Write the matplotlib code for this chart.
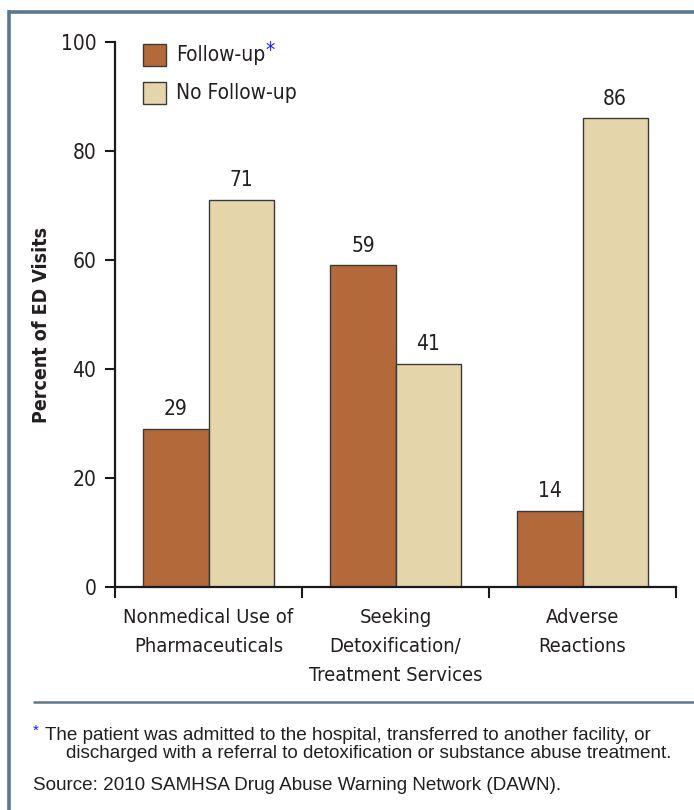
import matplotlib
matplotlib.use("Agg")
import matplotlib.pyplot as plt
from matplotlib.patches import Rectangle
from matplotlib.lines import Line2D
from matplotlib import font_manager
from matplotlib.font_manager import FontProperties
import numpy as np

categories = ["Nonmedical Use of\nPharmaceuticals",
              "Seeking\nDetoxification/\nTreatment Services",
              "Adverse\nReactions"]
follow_up = [29, 59, 14]
no_follow_up = [71, 41, 86]
series_names = ["Follow-up", "No Follow-up"]
y_ticks = [0, 20, 40, 60, 80, 100]
footnote_1 = "The patient was admitted to the hospital, transferred to another facility, or"
footnote_2 = "discharged with a referral to detoxification or substance abuse treatment."
source = "Source: 2010 SAMHSA Drug Abuse Warning Network (DAWN)."

# pick a condensed sans face for the chart labels
available = {f.name for f in font_manager.fontManager.ttflist}
if "Liberation Sans Narrow" in available:
    cond = dict(family="Liberation Sans Narrow")
else:
    probe = FontProperties(family="DejaVu Sans", stretch="condensed")
    path = font_manager.findfont(probe, fallback_to_default=False)
    if "ondensed" in path:
        cond = dict(family="DejaVu Sans", stretch="condensed")
    else:
        cond = dict(family="Liberation Sans")
regular = "Liberation Sans"

c_follow = "#B3693A"
c_nofollow = "#E5D5AA"
c_edge = "#3a3a3a"
c_frame = "#5B7893"
c_text = "#231F20"

fig = plt.figure(figsize=(6.94, 8.10), dpi=100)
W, H = 694, 810

def fx(px):
    return px / W

def fy(py):
    return 1 - py / H

# page frame: top and left rules
fig.add_artist(Line2D([fx(9), 1.0], [fy(11.5), fy(11.5)], color=c_frame, lw=2.6,
                      solid_capstyle="butt"))
fig.add_artist(Line2D([fx(9), fx(9)], [fy(10.3), 0.0], color=c_frame, lw=2.6,
                      solid_capstyle="butt"))
# divider above the notes
fig.add_artist(Line2D([fx(33), 1.0], [fy(702), fy(702)], color=c_frame, lw=1.8,
                      solid_capstyle="butt"))

ax = fig.add_axes([fx(115), fy(587), fx(676) - fx(115), fy(42) - fy(587)])

x = np.arange(len(categories))
bw = 0.348
ax.bar(x - bw / 2, follow_up, width=bw, color=c_follow, edgecolor=c_edge, linewidth=1.0,
       zorder=2)
ax.bar(x + bw / 2, no_follow_up, width=bw, color=c_nofollow, edgecolor=c_edge, linewidth=1.0,
       zorder=2)

for xi, v in zip(x - bw / 2, follow_up):
    ax.annotate(f"{v}", (xi, v), xytext=(0, 7), textcoords="offset points",
                ha="center", va="bottom", fontsize=15, color=c_text, **cond)
for xi, v in zip(x + bw / 2, no_follow_up):
    ax.annotate(f"{v}", (xi, v), xytext=(0, 7), textcoords="offset points",
                ha="center", va="bottom", fontsize=15, color=c_text, **cond)

ax.set_xlim(-0.5, len(categories) - 0.5)
ax.set_ylim(0, 100)

ax.set_yticks(y_ticks)
ax.set_yticklabels([str(t) for t in y_ticks], fontsize=15, color=c_text, **cond)
ax.tick_params(axis="y", direction="out", length=7.5, width=1.5, pad=6, color="#1a1a1a")

ax.set_xticks(np.arange(-0.5, len(categories)))
ax.set_xticklabels([])
ax.tick_params(axis="x", which="major", direction="out", length=8, width=1.5, color="#1a1a1a")
ax.set_xticks(x, minor=True)
ax.set_xticklabels(categories, minor=True, fontsize=14.5, color=c_text,
                   linespacing=1.67, va="top", **cond)
ax.tick_params(axis="x", which="minor", length=0, pad=15)

for s in ["top", "right"]:
    ax.spines[s].set_visible(False)
for s in ["left", "bottom"]:
    ax.spines[s].set_linewidth(1.6)
    ax.spines[s].set_color("#1a1a1a")

ax.set_ylabel("Percent of ED Visits", fontsize=14, fontweight="bold", color=c_text, **cond)
ax.yaxis.set_label_coords(-(115 - 51) / (676 - 115), 0.48)

# legend
for (top, col, name) in [(44, c_follow, series_names[0]), (82, c_nofollow, series_names[1])]:
    fig.add_artist(Rectangle((fx(143), fy(top + 22)), fx(166) - fx(143), fy(top) - fy(top + 22),
                             facecolor=col, edgecolor=c_edge, lw=1.0, transform=fig.transFigure))
    fig.text(fx(176), fy(top + 11), name, fontsize=15, color=c_text,
             ha="left", va="center", **cond)
fig.canvas.draw()
t = [tt for tt in fig.texts if tt.get_text() == series_names[0]][0]
bb = t.get_window_extent()
fig.text(bb.x1 / W + 0.001, fy(44 + 7), "*", fontsize=15, color="#1a1aff",
         ha="left", va="center", **cond)

# notes
fig.text(fx(33), fy(731), "*", fontsize=11, family=regular, color="#1a1aff",
         ha="left", va="center")
fig.text(fx(45), fy(735), footnote_1, fontsize=13.6, family=regular, color=c_text,
         ha="left", va="center")
fig.text(fx(66), fy(753), footnote_2, fontsize=13.6, family=regular, color=c_text,
         ha="left", va="center")
fig.text(fx(33), fy(785), source, fontsize=13.6, family=regular, color=c_text,
         ha="left", va="center")

fig.savefig("out.png", dpi=100)
